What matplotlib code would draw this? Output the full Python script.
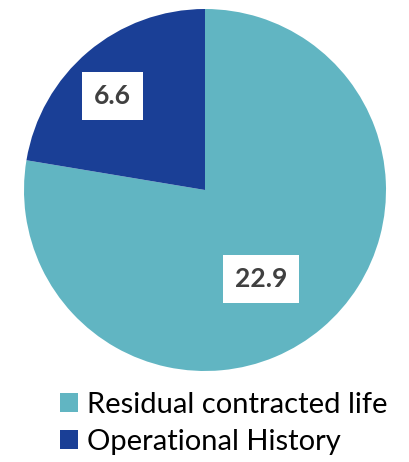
import matplotlib
matplotlib.use("Agg")
import matplotlib.pyplot as plt
from matplotlib.patches import Patch

categories = ["Residual contracted life", "Operational History"]
values = [22.9, 6.6]
colors = ["#61B5C2", "#1A3F96"]
labels = ["22.9", "6.6"]

plt.rcParams['font.family'] = ['Lato', 'DejaVu Sans']

fig = plt.figure(figsize=(4.10, 4.62), dpi=100)
ax = fig.add_axes([24/410, (462-371)/462, 362/410, 362/462])
wedges, _ = ax.pie(values, colors=colors, startangle=90, counterclock=False,
                   radius=1, center=(0, 0))
ax.set_xlim(-1, 1)
ax.set_ylim(-1, 1)
ax.set_aspect('equal')
ax.axis('off')

label_pos = [(0.31, -0.49), (-0.51, 0.52)]
for (x, y), t in zip(label_pos, labels):
    ax.text(x, y, t, ha='center', va='center', fontsize=19, fontweight='bold',
            color='#404040',
            bbox=dict(boxstyle='square,pad=0.45', facecolor='white', edgecolor='none'))

handles = [Patch(facecolor=c, edgecolor='none') for c in colors]
fig.legend(handles, categories, loc='upper left', bbox_to_anchor=(60/410, 1 - 392/462),
           frameon=False, fontsize=21, handlelength=0.62, handleheight=0.62,
           handletextpad=0.3, labelspacing=0.38, borderaxespad=0, borderpad=0)

fig.savefig("out.png", dpi=100)
